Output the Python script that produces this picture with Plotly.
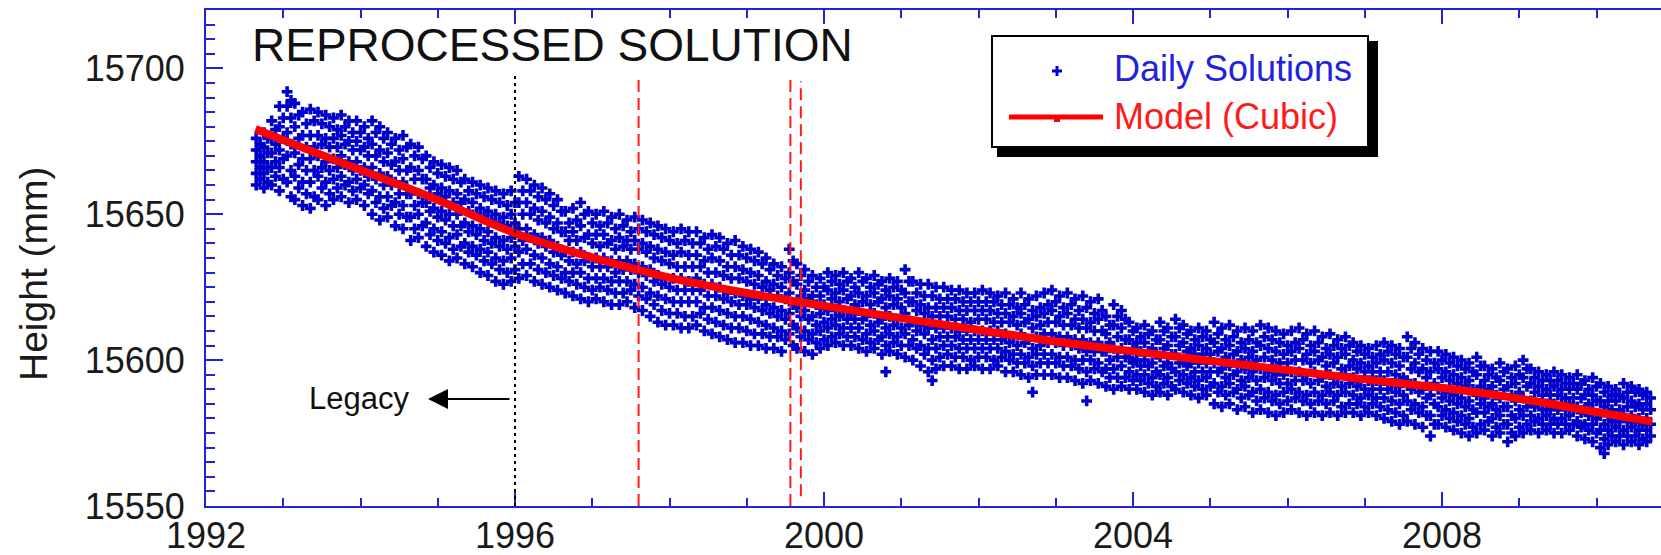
import plotly.graph_objects as go

# ---------------- data ----------------
model_years = [1992.64, 1993, 1994, 1995, 1996, 1997, 1998, 1999, 2000, 2001,
               2002, 2003, 2004, 2005, 2006, 2007, 2008, 2009, 2010, 2010.72]
model_height = [15679.2, 15675.4, 15665.2, 15654.9, 15643.5, 15635.2, 15628.3, 15623.0,
                15618.6, 15614.4, 15610.3, 15606.4, 15603.0, 15599.8, 15596.6, 15593.4,
                15590.5, 15586.8, 15582.2, 15578.9]

epochs = [
    1992.65, 1992.75, 1992.85, 1992.95,
    1993.05, 1993.15, 1993.25, 1993.35, 1993.45, 1993.55, 1993.65, 1993.75, 1993.85, 1993.95,
    1994.05, 1994.15, 1994.25, 1994.35, 1994.45, 1994.55, 1994.65, 1994.75, 1994.85, 1994.95,
    1995.05, 1995.15, 1995.25, 1995.35, 1995.45, 1995.55, 1995.65, 1995.75, 1995.85, 1995.95,
    1996.05, 1996.15, 1996.25, 1996.35, 1996.45, 1996.55, 1996.65, 1996.75, 1996.85, 1996.95,
    1997.05, 1997.15, 1997.25, 1997.35, 1997.45, 1997.55, 1997.65, 1997.75, 1997.85, 1997.95,
    1998.05, 1998.15, 1998.25, 1998.35, 1998.45, 1998.55, 1998.65, 1998.75, 1998.85, 1998.95,
    1999.05, 1999.15, 1999.25, 1999.35, 1999.45, 1999.55, 1999.65, 1999.75, 1999.85, 1999.95,
    2000.05, 2000.15, 2000.25, 2000.35, 2000.45, 2000.55, 2000.65, 2000.75, 2000.85, 2000.95,
    2001.05, 2001.15, 2001.25, 2001.35, 2001.45, 2001.55, 2001.65, 2001.75, 2001.85, 2001.95,
    2002.05, 2002.15, 2002.25, 2002.35, 2002.45, 2002.55, 2002.65, 2002.75, 2002.85, 2002.95,
    2003.05, 2003.15, 2003.25, 2003.35, 2003.45, 2003.55, 2003.65, 2003.75, 2003.85, 2003.95,
    2004.05, 2004.15, 2004.25, 2004.35, 2004.45, 2004.55, 2004.65, 2004.75, 2004.85, 2004.95,
    2005.05, 2005.15, 2005.25, 2005.35, 2005.45, 2005.55, 2005.65, 2005.75, 2005.85, 2005.95,
    2006.05, 2006.15, 2006.25, 2006.35, 2006.45, 2006.55, 2006.65, 2006.75, 2006.85, 2006.95,
    2007.05, 2007.15, 2007.25, 2007.35, 2007.45, 2007.55, 2007.65, 2007.75, 2007.85, 2007.95,
    2008.05, 2008.15, 2008.25, 2008.35, 2008.45, 2008.55, 2008.65, 2008.75, 2008.85, 2008.95,
    2009.05, 2009.15, 2009.25, 2009.35, 2009.45, 2009.55, 2009.65, 2009.75, 2009.85, 2009.95,
    2010.05, 2010.15, 2010.25, 2010.35, 2010.45, 2010.55, 2010.65,
]

daily_heights = [
    [15676, 15674, 15672, 15670, 15668, 15666, 15664, 15662, 15660],
    [15678, 15676, 15673, 15671, 15668, 15666, 15664, 15661, 15659],
    [15682, 15679, 15676, 15674, 15671, 15668, 15666, 15663, 15660],
    [15687, 15683, 15680, 15676, 15672, 15669, 15666, 15662, 15658],
    # 1993
    [15692, 15689, 15687, 15683, 15678, 15674, 15670, 15665, 15661, 15656],
    [15688, 15684, 15680, 15676, 15671, 15667, 15663, 15659, 15655],
    [15685, 15681, 15677, 15673, 15669, 15665, 15661, 15657, 15653],
    [15686, 15682, 15677, 15673, 15669, 15665, 15661, 15656, 15652],
    [15685, 15681, 15677, 15674, 15670, 15666, 15663, 15659, 15655],
    [15684, 15680, 15676, 15673, 15668, 15665, 15661, 15657, 15653],
    [15683, 15679, 15676, 15673, 15669, 15666, 15662, 15659, 15655],
    [15684, 15680, 15677, 15674, 15670, 15667, 15663, 15660, 15656],
    [15682, 15678, 15675, 15672, 15668, 15665, 15661, 15658, 15654],
    [15682, 15678, 15675, 15672, 15668, 15665, 15662, 15659, 15655],
    # 1994
    [15680, 15676, 15673, 15670, 15666, 15663, 15660, 15657, 15653],
    [15682, 15678, 15674, 15670, 15666, 15662, 15658, 15654, 15650],
    [15680, 15676, 15672, 15668, 15664, 15660, 15656, 15652, 15648],
    [15678, 15674, 15671, 15667, 15663, 15660, 15656, 15653, 15649],
    [15676, 15672, 15668, 15665, 15661, 15657, 15654, 15650, 15646],
    [15677, 15673, 15669, 15665, 15661, 15657, 15653, 15649, 15645],
    [15674, 15670, 15666, 15662, 15657, 15653, 15649, 15645, 15641],
    [15673, 15669, 15665, 15662, 15657, 15654, 15650, 15646, 15642],
    [15670, 15666, 15662, 15659, 15654, 15651, 15647, 15643, 15639],
    [15668, 15664, 15660, 15657, 15652, 15649, 15645, 15641, 15637],
    # 1995
    [15667, 15663, 15659, 15656, 15651, 15648, 15644, 15640, 15636],
    [15666, 15662, 15658, 15654, 15650, 15646, 15642, 15638, 15634],
    [15665, 15661, 15657, 15654, 15650, 15646, 15643, 15639, 15635],
    [15662, 15658, 15655, 15651, 15647, 15644, 15640, 15637, 15633],
    [15661, 15657, 15654, 15650, 15646, 15643, 15639, 15636, 15632],
    [15660, 15656, 15652, 15649, 15645, 15641, 15638, 15634, 15630],
    [15659, 15655, 15651, 15648, 15644, 15640, 15637, 15633, 15629],
    [15658, 15654, 15650, 15647, 15642, 15639, 15635, 15631, 15627],
    [15657, 15653, 15649, 15646, 15641, 15638, 15634, 15630, 15626],
    [15658, 15654, 15650, 15647, 15642, 15639, 15635, 15631, 15627],
    # 1996
    [15663, 15658, 15654, 15650, 15645, 15641, 15637, 15633, 15628],
    [15662, 15658, 15654, 15650, 15645, 15642, 15638, 15633, 15629],
    [15660, 15656, 15652, 15648, 15643, 15640, 15636, 15631, 15627],
    [15659, 15655, 15651, 15647, 15642, 15639, 15635, 15630, 15626],
    [15657, 15653, 15649, 15645, 15641, 15637, 15633, 15629, 15625],
    [15655, 15651, 15647, 15644, 15639, 15636, 15632, 15628, 15624],
    [15651, 15647, 15644, 15641, 15637, 15634, 15630, 15627, 15623],
    [15652, 15648, 15644, 15641, 15637, 15633, 15630, 15626, 15622],
    [15654, 15650, 15646, 15642, 15637, 15634, 15630, 15625, 15621],
    [15651, 15647, 15643, 15640, 15635, 15632, 15628, 15624, 15620],
    # 1997
    [15650, 15646, 15643, 15639, 15635, 15632, 15628, 15625, 15621],
    [15651, 15647, 15643, 15640, 15635, 15632, 15628, 15624, 15620],
    [15649, 15645, 15641, 15638, 15634, 15630, 15627, 15623, 15619],
    [15650, 15646, 15642, 15639, 15634, 15631, 15627, 15623, 15619],
    [15648, 15644, 15641, 15638, 15634, 15631, 15627, 15624, 15620],
    [15649, 15645, 15641, 15638, 15633, 15630, 15626, 15622, 15618],
    [15648, 15644, 15640, 15637, 15632, 15629, 15625, 15621, 15617],
    [15647, 15643, 15639, 15635, 15631, 15627, 15623, 15619, 15615],
    [15646, 15642, 15638, 15634, 15629, 15626, 15622, 15617, 15613],
    [15645, 15641, 15637, 15633, 15628, 15625, 15621, 15616, 15612],
    # 1998
    [15644, 15640, 15636, 15632, 15628, 15624, 15620, 15616, 15612],
    [15645, 15641, 15637, 15632, 15628, 15624, 15620, 15615, 15611],
    [15644, 15640, 15636, 15632, 15627, 15624, 15620, 15615, 15611],
    [15644, 15640, 15636, 15632, 15628, 15624, 15620, 15616, 15612],
    [15642, 15638, 15634, 15630, 15626, 15622, 15618, 15614, 15610],
    [15643, 15639, 15635, 15630, 15626, 15622, 15618, 15613, 15609],
    [15642, 15638, 15634, 15629, 15625, 15621, 15617, 15612, 15608],
    [15640, 15636, 15632, 15628, 15623, 15620, 15616, 15611, 15607],
    [15641, 15636, 15632, 15628, 15623, 15619, 15615, 15611, 15606],
    [15639, 15635, 15631, 15627, 15622, 15619, 15615, 15610, 15606],
    # 1999
    [15638, 15634, 15630, 15626, 15621, 15618, 15614, 15609, 15605],
    [15637, 15633, 15629, 15625, 15621, 15617, 15613, 15609, 15605],
    [15635, 15631, 15627, 15624, 15619, 15616, 15612, 15608, 15604],
    [15633, 15629, 15626, 15622, 15618, 15615, 15611, 15608, 15604],
    [15632, 15628, 15625, 15621, 15617, 15614, 15610, 15607, 15603],
    [15638, 15634, 15630, 15627, 15623, 15619, 15616, 15612, 15609, 15605],
    [15633, 15629, 15626, 15622, 15618, 15615, 15611, 15608, 15604],
    [15631, 15627, 15624, 15621, 15617, 15614, 15610, 15607, 15603],
    [15629, 15625, 15622, 15619, 15615, 15612, 15609, 15606, 15602],
    [15628, 15625, 15622, 15619, 15616, 15613, 15610, 15607, 15604],
    # 2000
    [15630, 15627, 15624, 15621, 15617, 15614, 15611, 15608, 15605],
    [15629, 15626, 15623, 15620, 15617, 15615, 15612, 15609, 15606],
    [15630, 15627, 15624, 15621, 15617, 15614, 15611, 15608, 15605],
    [15628, 15625, 15622, 15619, 15616, 15614, 15611, 15608, 15605],
    [15630, 15627, 15623, 15620, 15617, 15614, 15611, 15607, 15604],
    [15628, 15625, 15622, 15619, 15615, 15612, 15609, 15606, 15603],
    [15629, 15626, 15623, 15620, 15616, 15613, 15610, 15607, 15604],
    [15627, 15624, 15621, 15618, 15614, 15611, 15608, 15605, 15602, 15596],
    [15628, 15625, 15622, 15619, 15615, 15612, 15609, 15606, 15603],
    [15627, 15624, 15621, 15618, 15614, 15611, 15608, 15605, 15602],
    # 2001
    [15631, 15627, 15623, 15620, 15616, 15612, 15609, 15605, 15601],
    [15627, 15623, 15620, 15617, 15613, 15610, 15607, 15604, 15600],
    [15626, 15622, 15619, 15616, 15612, 15609, 15605, 15602, 15598],
    [15626, 15622, 15618, 15615, 15611, 15607, 15604, 15600, 15596, 15593],
    [15625, 15621, 15618, 15615, 15611, 15608, 15604, 15601, 15597],
    [15625, 15621, 15618, 15615, 15611, 15608, 15605, 15602, 15598],
    [15624, 15621, 15618, 15614, 15611, 15608, 15605, 15601, 15598],
    [15624, 15620, 15617, 15614, 15610, 15607, 15604, 15601, 15597],
    [15623, 15620, 15617, 15613, 15610, 15607, 15604, 15600, 15597],
    [15623, 15620, 15617, 15614, 15610, 15607, 15604, 15601, 15598],
    # 2002
    [15624, 15620, 15617, 15614, 15610, 15607, 15604, 15601, 15597],
    [15623, 15620, 15617, 15613, 15610, 15607, 15604, 15600, 15597],
    [15622, 15619, 15616, 15613, 15610, 15607, 15604, 15601, 15598],
    [15623, 15619, 15616, 15613, 15609, 15606, 15603, 15600, 15596],
    [15621, 15618, 15615, 15612, 15608, 15605, 15602, 15599, 15596],
    [15623, 15619, 15616, 15613, 15609, 15606, 15602, 15599, 15595],
    [15621, 15617, 15614, 15611, 15607, 15604, 15601, 15598, 15594, 15589],
    [15622, 15618, 15615, 15612, 15608, 15605, 15602, 15599, 15595],
    [15623, 15619, 15616, 15613, 15609, 15606, 15602, 15599, 15595],
    [15624, 15620, 15617, 15613, 15609, 15606, 15602, 15599, 15595],
    # 2003
    [15622, 15618, 15615, 15612, 15608, 15605, 15601, 15598, 15594],
    [15623, 15619, 15616, 15612, 15608, 15605, 15601, 15598, 15594],
    [15621, 15617, 15614, 15611, 15607, 15604, 15600, 15597, 15593],
    [15622, 15618, 15614, 15611, 15607, 15603, 15600, 15596, 15592, 15586],
    [15620, 15616, 15613, 15610, 15606, 15603, 15600, 15597, 15593],
    [15621, 15617, 15614, 15610, 15606, 15603, 15599, 15596, 15592],
    [15615, 15612, 15609, 15606, 15603, 15600, 15597, 15594, 15591],
    [15619, 15615, 15612, 15608, 15604, 15601, 15597, 15594, 15590],
    [15617, 15614, 15611, 15607, 15604, 15601, 15598, 15594, 15591],
    [15613, 15610, 15607, 15604, 15601, 15599, 15596, 15593, 15590],
    # 2004
    [15611, 15608, 15606, 15603, 15600, 15598, 15595, 15593, 15590],
    [15612, 15609, 15606, 15603, 15600, 15598, 15595, 15592, 15589],
    [15610, 15607, 15604, 15602, 15599, 15596, 15594, 15591, 15588],
    [15613, 15610, 15607, 15604, 15601, 15598, 15595, 15592, 15589],
    [15611, 15608, 15605, 15602, 15599, 15597, 15594, 15591, 15588],
    [15614, 15611, 15608, 15605, 15602, 15599, 15596, 15593, 15590],
    [15612, 15609, 15606, 15603, 15600, 15598, 15595, 15592, 15589],
    [15610, 15607, 15604, 15602, 15599, 15596, 15594, 15591, 15588],
    [15611, 15608, 15605, 15602, 15599, 15596, 15593, 15590, 15587],
    [15610, 15607, 15604, 15602, 15599, 15596, 15594, 15591, 15588],
    # 2005
    [15613, 15609, 15606, 15603, 15599, 15596, 15592, 15589, 15585],
    [15611, 15607, 15604, 15601, 15597, 15594, 15591, 15588, 15584],
    [15612, 15608, 15605, 15602, 15598, 15595, 15592, 15589, 15585],
    [15610, 15606, 15603, 15600, 15596, 15593, 15590, 15587, 15583],
    [15611, 15607, 15604, 15601, 15597, 15594, 15591, 15588, 15584],
    [15610, 15606, 15603, 15600, 15596, 15593, 15589, 15586, 15582],
    [15612, 15608, 15605, 15601, 15597, 15594, 15590, 15587, 15583],
    [15611, 15607, 15604, 15600, 15596, 15593, 15589, 15586, 15582],
    [15610, 15606, 15603, 15599, 15595, 15592, 15588, 15585, 15581],
    [15609, 15605, 15602, 15599, 15595, 15592, 15589, 15586, 15582],
    # 2006
    [15610, 15606, 15603, 15600, 15596, 15593, 15590, 15587, 15583],
    [15611, 15607, 15604, 15600, 15596, 15593, 15589, 15586, 15582],
    [15609, 15605, 15602, 15599, 15595, 15592, 15588, 15585, 15581],
    [15610, 15606, 15603, 15600, 15596, 15593, 15589, 15586, 15582],
    [15608, 15604, 15601, 15598, 15594, 15591, 15588, 15585, 15581],
    [15609, 15605, 15602, 15599, 15595, 15592, 15589, 15586, 15582],
    [15607, 15604, 15601, 15597, 15594, 15591, 15588, 15584, 15581],
    [15608, 15605, 15602, 15598, 15595, 15592, 15589, 15585, 15582],
    [15606, 15603, 15600, 15597, 15594, 15591, 15588, 15585, 15582],
    [15605, 15602, 15599, 15596, 15593, 15590, 15587, 15584, 15581],
    # 2007
    [15604, 15601, 15598, 15596, 15593, 15590, 15588, 15585, 15582],
    [15605, 15602, 15599, 15596, 15593, 15590, 15587, 15584, 15581],
    [15606, 15603, 15600, 15596, 15593, 15590, 15587, 15583, 15580],
    [15605, 15602, 15599, 15595, 15592, 15589, 15586, 15582, 15579],
    [15604, 15601, 15598, 15594, 15591, 15588, 15585, 15581, 15578],
    [15608, 15604, 15601, 15597, 15593, 15590, 15586, 15583, 15579],
    [15606, 15602, 15599, 15596, 15592, 15589, 15585, 15582, 15578],
    [15604, 15600, 15597, 15594, 15590, 15587, 15584, 15581, 15577],
    [15603, 15599, 15596, 15592, 15588, 15585, 15581, 15578, 15574],
    [15603, 15600, 15597, 15594, 15590, 15587, 15584, 15581, 15578],
    # 2008
    [15602, 15599, 15596, 15593, 15589, 15586, 15583, 15580, 15577],
    [15601, 15598, 15595, 15592, 15588, 15585, 15582, 15579, 15576],
    [15600, 15597, 15594, 15591, 15587, 15584, 15581, 15578, 15575],
    [15599, 15596, 15593, 15590, 15586, 15583, 15580, 15577, 15574],
    [15601, 15598, 15595, 15591, 15588, 15585, 15582, 15578, 15575],
    [15598, 15595, 15593, 15590, 15587, 15584, 15582, 15579, 15576],
    [15597, 15594, 15591, 15588, 15585, 15583, 15580, 15577, 15574],
    [15599, 15596, 15593, 15590, 15587, 15584, 15581, 15578, 15575],
    [15597, 15594, 15591, 15588, 15584, 15581, 15578, 15575, 15572],
    [15598, 15595, 15592, 15589, 15586, 15583, 15580, 15577, 15574],
    # 2009
    [15600, 15597, 15594, 15591, 15587, 15584, 15581, 15578, 15575],
    [15597, 15594, 15592, 15589, 15586, 15584, 15581, 15579, 15576],
    [15596, 15593, 15591, 15588, 15585, 15583, 15580, 15578, 15575],
    [15595, 15593, 15590, 15588, 15585, 15583, 15581, 15578, 15576],
    [15596, 15593, 15591, 15588, 15585, 15583, 15580, 15578, 15575],
    [15595, 15592, 15590, 15587, 15585, 15583, 15580, 15578, 15575],
    [15594, 15592, 15590, 15587, 15585, 15583, 15581, 15578, 15576],
    [15595, 15592, 15590, 15587, 15584, 15582, 15579, 15577, 15574],
    [15593, 15590, 15588, 15585, 15583, 15581, 15578, 15576, 15573],
    [15594, 15591, 15588, 15586, 15583, 15580, 15578, 15575, 15572],
    # 2010
    [15592, 15589, 15586, 15584, 15581, 15578, 15576, 15573, 15570, 15568],
    [15591, 15588, 15586, 15583, 15581, 15579, 15576, 15574, 15571],
    [15590, 15588, 15586, 15583, 15581, 15579, 15577, 15574, 15572],
    [15592, 15589, 15587, 15584, 15581, 15579, 15576, 15574, 15571],
    [15591, 15589, 15586, 15584, 15581, 15579, 15577, 15574, 15572],
    [15590, 15588, 15585, 15583, 15580, 15578, 15576, 15573, 15571],
    [15589, 15587, 15585, 15583, 15580, 15578, 15576, 15574, 15572],
]

x_ticks = [1992, 1996, 2000, 2004, 2008]
y_ticks = [15550, 15600, 15650, 15700]
legacy_epoch = 1996.0
change_epochs = [1997.6, 1999.565, 1999.70]

# ---------------- figure ----------------
W, H = 1661, 555
L, R, T, B = 206, 0, 10, 49
PW, PH = W - L - R, H - T - B
BIN_HALF = 0.05  # each bin covers ~0.1 yr of daily solutions


def px(x):
    return (x - L) / PW


def py(y):
    return (H - B - y) / PH


AX = "#2222dd"
FONT = "Liberation Sans, Arial, Helvetica, sans-serif"

# spread each bin's solutions over the bin's two half-intervals
xs, ys = [], []
for t, vals in zip(epochs, daily_heights):
    for i, v in enumerate(vals):
        xs.append(t + (BIN_HALF if i % 2 else 0.0))
        ys.append(v)

fig = go.Figure()
fig.add_trace(go.Scatter(
    x=xs, y=ys, mode="markers", name="Daily Solutions",
    marker=dict(symbol="cross", size=9, color="#0000cc", line=dict(width=0)),
    showlegend=False, hoverinfo="skip"))
fig.add_trace(go.Scatter(
    x=model_years, y=model_height, mode="lines", name="Model (Cubic)",
    line=dict(color="#ff0000", width=8, shape="spline"),
    showlegend=False, hoverinfo="skip"))

fig.update_layout(
    template="none", width=W, height=H,
    margin=dict(l=L, r=R, t=T, b=B, pad=0),
    paper_bgcolor="white", plot_bgcolor="white", showlegend=False,
    font=dict(family=FONT, color="#1a1a1a"),
)

fig.update_xaxes(
    range=[1992, 1992 + PW / 77.25], tickmode="array", tickvals=x_ticks,
    ticktext=[str(v) for v in x_ticks],
    ticks="inside", ticklen=14, tickwidth=2, tickcolor=AX,
    showline=True, linecolor=AX, linewidth=2, mirror="ticks",
    showgrid=False, zeroline=False, automargin=False,
    tickfont=dict(family=FONT, size=36, color="#1a1a1a"),
    ticklabelstandoff=-3,
    minor=dict(dtick=1, tick0=1992, ticks="inside", ticklen=8, tickwidth=2,
               tickcolor=AX, showgrid=False),
)
fig.update_yaxes(
    range=[15550, 15720], tickmode="array", tickvals=y_ticks,
    ticktext=[str(v) for v in y_ticks],
    ticks="inside", ticklen=17, tickwidth=2, tickcolor=AX,
    showline=True, linecolor=AX, linewidth=2, mirror=False,
    showgrid=False, zeroline=False, automargin=False,
    tickfont=dict(family=FONT, size=36, color="#1a1a1a"),
    ticklabelstandoff=12,
    minor=dict(dtick=5, tick0=15550, ticks="inside", ticklen=9, tickwidth=2,
               tickcolor=AX, showgrid=False),
)

# vertical epoch lines
fig.add_shape(type="line", xref="x", yref="y", x0=legacy_epoch, x1=legacy_epoch,
              y0=15550, y1=15697.7, line=dict(color="black", width=2, dash="3px,4px"),
              layer="above")
fig.add_shape(type="line", xref="x", yref="y", x0=change_epochs[0], x1=change_epochs[0],
              y0=15550, y1=15697.0, line=dict(color="#ff1a1a", width=2, dash="12px,6px"),
              layer="above")
fig.add_shape(type="line", xref="x", yref="y", x0=change_epochs[1], x1=change_epochs[1],
              y0=15550, y1=15697.4, line=dict(color="#ff1a1a", width=2, dash="12px,6px"),
              layer="above")
fig.add_shape(type="line", xref="x", yref="y", x0=change_epochs[2], x1=change_epochs[2],
              y0=15553.3, y1=15695.6, line=dict(color="#ff1a1a", width=2, dash="12px,6px"),
              layer="above")

# title
fig.add_annotation(xref="paper", yref="paper", x=px(250), y=py(45),
                   xanchor="left", yanchor="middle", showarrow=False,
                   text="REPROCESSED SOLUTION",
                   font=dict(family=FONT, size=46, color="#111111"))

# y-axis title
fig.add_annotation(xref="paper", yref="paper", x=px(33), y=py(274),
                   xanchor="center", yanchor="middle", showarrow=False,
                   text="Height (mm)", textangle=-90,
                   font=dict(family=FONT, size=39, color="#1a1a1a"))

# Legacy label and arrow
fig.add_annotation(xref="paper", yref="paper", x=px(411), y=py(398),
                   xanchor="right", yanchor="middle", showarrow=False,
                   text="Legacy", font=dict(family=FONT, size=31, color="#111111"))
fig.add_annotation(xref="paper", yref="paper", x=px(428), y=py(399),
                   ax=83, ay=0, axref="pixel", ayref="pixel",
                   text="", showarrow=True, arrowhead=2, arrowsize=2,
                   arrowwidth=2, arrowcolor="black")

# manual legend with drop shadow
fig.add_shape(type="rect", xref="paper", yref="paper",
              x0=px(997), x1=px(1378), y0=py(157), y1=py(41),
              fillcolor="black", line=dict(width=0), layer="above")
fig.add_shape(type="rect", xref="paper", yref="paper",
              x0=px(992), x1=px(1368), y0=py(147), y1=py(36),
              fillcolor="white", line=dict(color="black", width=2), layer="above")
fig.add_shape(type="line", xref="paper", yref="paper",
              x0=px(1052), x1=px(1062), y0=py(71), y1=py(71),
              line=dict(color="#0000cc", width=3), layer="above")
fig.add_shape(type="line", xref="paper", yref="paper",
              x0=px(1057), x1=px(1057), y0=py(66), y1=py(76),
              line=dict(color="#0000cc", width=3), layer="above")
fig.add_shape(type="line", xref="paper", yref="paper",
              x0=px(1009), x1=px(1103), y0=py(117), y1=py(117),
              line=dict(color="#ff0000", width=5), layer="above")
fig.add_shape(type="rect", xref="paper", yref="paper",
              x0=px(1054), x1=px(1060), y0=py(122), y1=py(116),
              fillcolor="#ff0000", line=dict(width=0), layer="above")
fig.add_annotation(xref="paper", yref="paper", x=px(1112), y=py(68),
                   xanchor="left", yanchor="middle", showarrow=False,
                   text="Daily Solutions", font=dict(family=FONT, size=36, color="#2222dd"))
fig.add_annotation(xref="paper", yref="paper", x=px(1112), y=py(116),
                   xanchor="left", yanchor="middle", showarrow=False,
                   text="Model (Cubic)", font=dict(family=FONT, size=36, color="#ff1a1a"))

fig.write_html("out.html")
